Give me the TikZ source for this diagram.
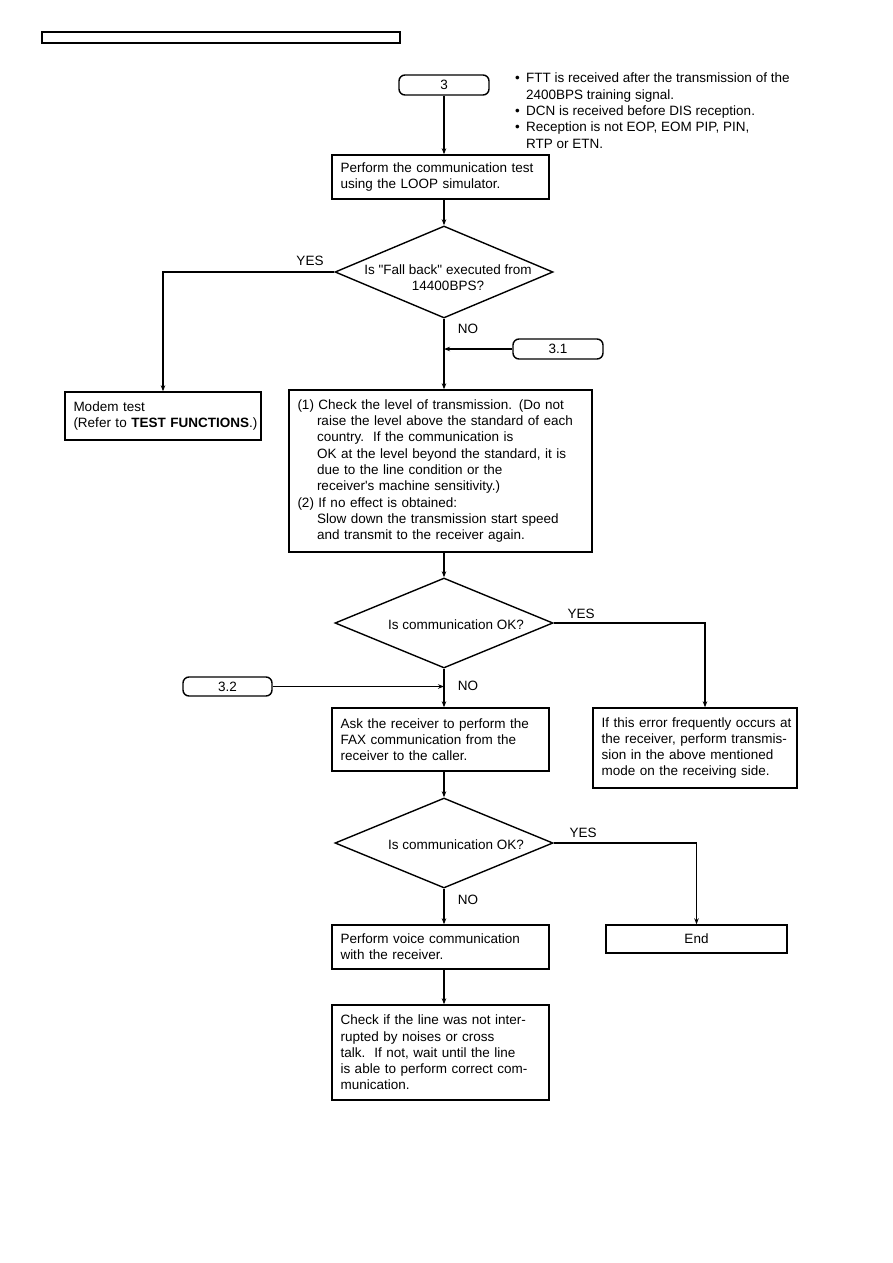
\documentclass[tikz,border=0pt]{standalone}
\usepackage{fontspec}
\setmainfont{Liberation Sans}[Ligatures=TeXOff]
\usetikzlibrary{shapes.geometric,arrows.meta}
\begin{document}
\begin{tikzpicture}[x=1pt,y=-1pt,
  every node/.style={font=\fontsize{13.5}{16.3}\selectfont},
  arr/.style={line width=1.4pt,-{Stealth[length=6pt,width=4.5pt]}},
  box/.style={draw,line width=1.4pt,rectangle,inner xsep=8.5pt,inner ysep=0pt,align=left},
  term/.style={draw,line width=1.4pt,rounded corners=6pt,inner sep=0pt},
  dia/.style={draw,line width=1.4pt,diamond,inner sep=0pt,minimum width=218pt},
  lbl/.style={inner sep=0pt}]
\useasboundingbox (0,0) rectangle (893,1263);
\node[draw,line width=1.3pt,minimum width=358pt,minimum height=11pt,inner sep=0pt] (hdr) at (221,37.5) {};
\node[term,minimum width=90pt,minimum height=20pt] (t3) at (444,85) {3};
\node[anchor=north west,inner sep=0pt,align=left] (notes) at (515,73) {%
\makebox[11pt][l]{\textbullet}FTT is received after the transmission of the\\
\hspace*{11pt}2400BPS training signal.\\
\makebox[11pt][l]{\textbullet}DCN is received before DIS reception.\\
\makebox[11pt][l]{\textbullet}Reception is not EOP, EOM PIP, PIN,\\
\hspace*{11pt}RTP or ETN.};
\node[box,text width=200pt,minimum height=44pt] (b1) at (440.5,177) {Perform the communication test\\using the LOOP simulator.};
\node[dia,minimum height=92pt] (d1) at (444,272) {};
\node[align=center,inner sep=0pt] (d1t) at (448,278) {Is "Fall back" executed from\\14400BPS?};
\node[lbl] (yes1) at (310,261) {YES};
\node[box,text width=179pt,minimum height=48pt] (mt) at (163,416) {\mbox{Modem test}\\\mbox{(Refer to \textbf{TEST FUNCTIONS}.)}};
\node[lbl] (no1) at (468,329) {NO};
\node[term,minimum width=90pt,minimum height=20pt] (t31) at (558,349) {3.1};
\node[box,text width=286pt,minimum height=162pt] (b2) at (440.5,471) {%
\mbox{(1) Check the level of transmission. (Do not}\\
\hspace*{19.5pt}raise the level above the standard of each\\
\hspace*{19.5pt}country.\ \ If the communication is\\
\hspace*{19.5pt}OK at the level beyond the standard, it is\\
\hspace*{19.5pt}due to the line condition or the\\
\hspace*{19.5pt}receiver's machine sensitivity.)\\
(2) If no effect is obtained:\\
\hspace*{19.5pt}Slow down the transmission start speed\\
\hspace*{19.5pt}and transmit to the receiver again.};
\node[dia,minimum height=90pt] (d2) at (444,623) {};
\node[inner sep=0pt] (d2t) at (456,625) {Is communication OK?};
\node[lbl] (yes2) at (581,614) {YES};
\node[box,text width=187pt,minimum height=80pt] (b3) at (695,748) {\mbox{If this error frequently occurs at}\\\mbox{the receiver, perform transmis-}\\sion in the above mentioned\\mode on the receiving side.};
\node[term,minimum width=89pt,minimum height=19pt] (t32) at (227.5,686.5) {3.2};
\node[lbl] (no2) at (468,686) {NO};
\node[box,text width=200pt,minimum height=63pt] (b4) at (440.5,739.5) {Ask the receiver to perform the\\FAX communication from the\\receiver to the caller.};
\node[dia,minimum height=90pt] (d3) at (444,843) {};
\node[inner sep=0pt] (d3t) at (456,845) {Is communication OK?};
\node[lbl] (yes3) at (583,833) {YES};
\node[draw,line width=1.4pt,minimum width=181pt,minimum height=28pt,inner sep=0pt] (end) at (696.5,939) {End};
\node[lbl] (no3) at (468,900) {NO};
\node[box,text width=200pt,minimum height=44pt] (b5) at (440.5,947) {Perform voice communication\\with the receiver.};
\node[box,text width=200pt,minimum height=95pt] (b6) at (440.5,1052.5) {\mbox{Check if the line was not inter-}\\rupted by noises or cross\\talk.\ \ If not, wait until the line\\\mbox{is able to perform correct com-}\\munication.};
\draw[arr] (t3.south) -- (t3.south |- b1.north);
\draw[arr] (b1.south -| d1.north) -- (d1.north);
\draw[arr] (d1.west) -| (mt.north);
\draw[arr] (d1.south) -- (d1.south |- b2.north);
\draw[arr] (t31.west) -- (t31.west -| d1.south);
\draw[arr] (b2.south -| d2.north) -- (d2.north);
\draw[arr] (d2.east) -| ([xshift=10pt]b3.north);
\draw[arr] (d2.south) -- (d2.south |- b4.north);
\draw[arr] (t32.east) -- (t32.east -| d2.south);
\draw[arr] (b4.south -| d3.north) -- (d3.north);
\draw[arr] (d3.east) -| (end.north);
\draw[arr] (d3.south) -- (d3.south |- b5.north);
\draw[arr] (b5.south -| d3.south) -- (b6.north -| d3.south);
\end{tikzpicture}
\end{document}
